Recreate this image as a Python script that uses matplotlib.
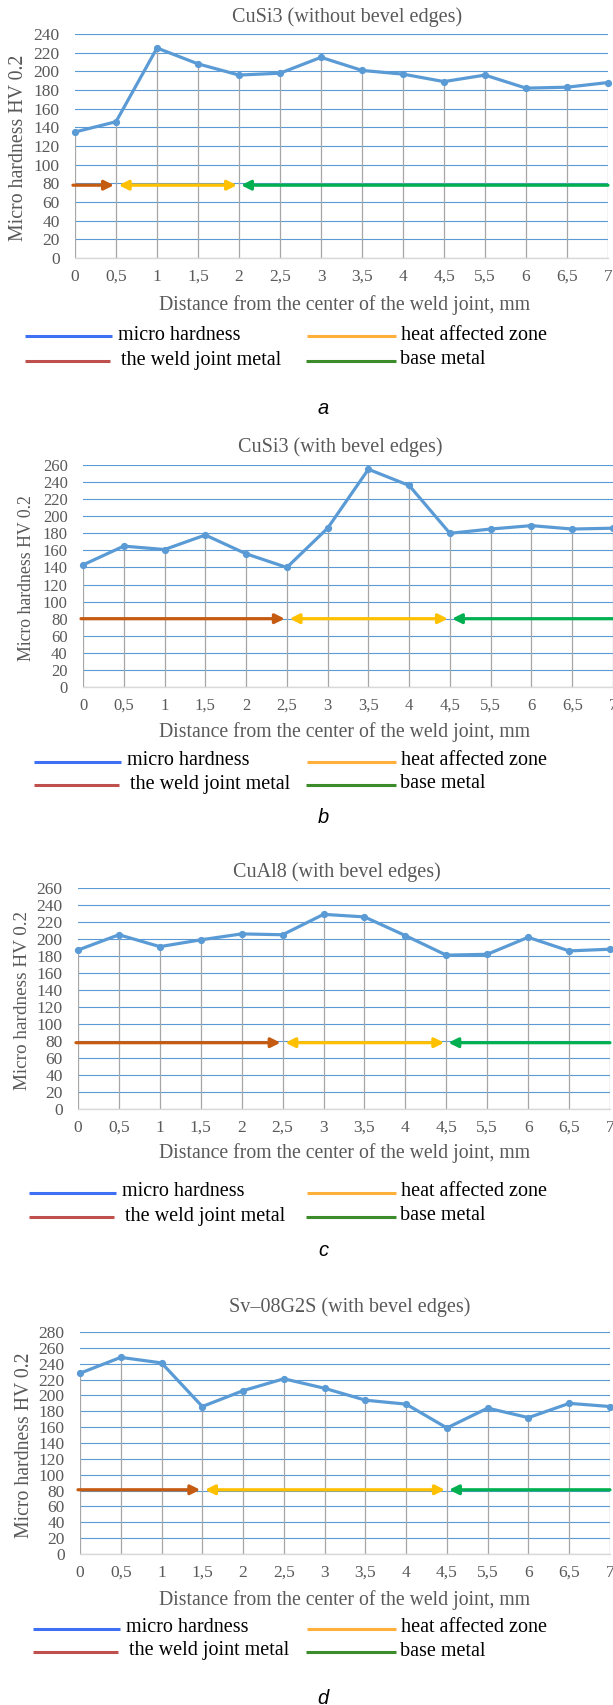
import matplotlib
matplotlib.use('Agg')
import matplotlib.pyplot as plt
from matplotlib.lines import Line2D

# micro hardness along the weld joint, four samples

dist_mm = [0, 0.5, 1, 1.5, 2, 2.5, 3, 3.5, 4, 4.5, 5.5, 6, 6.5, 7]
dist_labels = ['0', '0,5', '1', '1,5', '2', '2,5', '3', '3,5', '4', '4,5', '5,5', '6', '6,5', '7']

titles = ['CuSi3 (without bevel edges)', 'CuSi3 (with bevel edges)',
          'CuAl8 (with bevel edges)', 'Sv\u201308G2S (with bevel edges)']
letters = ['a', 'b', 'c', 'd']

hv_a = [135, 146, 225, 208, 196, 198, 215, 201, 197, 189, 196, 182, 183, 188]
hv_b = [143, 165, 161, 178, 156, 140, 186, 255, 236, 180, 185, 189, 185, 186]
hv_c = [187, 205, 191, 199, 206, 205, 229, 226, 204, 181, 182, 202, 186, 188]
hv_d = [228, 248, 241, 186, 206, 221, 209, 194, 189, 159, 184, 172, 190, 186]

# zone boundaries, mm: weld metal | HAZ | base metal
zones_a = [0, 0.5, 2, 7]
zones_b = [0, 2.5, 4.5, 7]
zones_c = [0, 2.5, 4.5, 7]
zones_d = [0, 1.5, 4.5, 7]
zone_level = [78, 80, 78, 81]

y_max = [240, 260, 260, 280]

legend_labels = ['micro hardness', 'heat affected zone', 'the weld joint metal', 'base metal']

W, H = 613, 1705
fig = plt.figure(figsize=(W / 100, H / 100), dpi=100)

GRAY = '#595959'
SERIF = 'Liberation Serif'

# panel geometry in pixels: left, right, top(ymax), bottom(0)
boxes = [(75, 608, 34, 258), (83, 613, 465, 687), (78, 610, 888, 1109), (80, 610, 1332, 1554)]
title_pos = [(347, 17), (340, 447), (337, 872), (350, 1307)]
xlab_y = [305, 732, 1153, 1600]
ylab_x = [19, 27, 23, 25]
leg_rows = [(335, 360), (761, 784), (1192, 1216), (1628, 1651)]
leg_x0 = [25, 34, 29, 33]
letter_y = [408, 817, 1250, 1698]
tick_fs = [12.5, 12, 12.5, 12.5]
ylab_fs = [14.3, 12.8, 13.8, 14.2]


def ft(x, y, s, **kw):
    return fig.text(x / W, 1 - y / H, s, **kw)


def hline(x0, x1, y, color, lw):
    fig.add_artist(Line2D([x0 / W, x1 / W], [1 - y / H, 1 - y / H], color=color, lw=lw,
                          solid_capstyle='butt'))


all_hv = [hv_a, hv_b, hv_c, hv_d]
all_zones = [zones_a, zones_b, zones_c, zones_d]

for i in range(4):
    l, r, t, b = boxes[i]
    ax = fig.add_axes([l / W, 1 - b / H, (r - l) / W, (b - t) / H])
    idx = list(range(len(dist_mm)))
    hv = all_hv[i]
    ax.set_xlim(0, len(idx) - 1)
    ax.set_ylim(0, y_max[i])
    ax.set_yticks(range(0, y_max[i] + 1, 20))
    ax.set_xticks(idx)
    ax.set_xticklabels(dist_labels)
    for s in ['top', 'left', 'right']:
        ax.spines[s].set_visible(False)
    ax.spines['bottom'].set_color('#D9D9D9')
    ax.spines['bottom'].set_linewidth(1.0)
    ax.tick_params(length=0, labelsize=tick_fs[i], labelcolor=GRAY)
    ax.tick_params(axis='y', pad=11)
    ax.tick_params(axis='x', pad=8)
    for lab in ax.get_xticklabels() + ax.get_yticklabels():
        lab.set_fontfamily(SERIF)
    ax.yaxis.grid(True, color='#5B9BD5', lw=0.8)
    ax.set_axisbelow(True)
    ax.vlines(idx, 0, hv, color='#A6A6A6', lw=0.9, zorder=2)
    ax.plot(idx, hv, color='#5B9BD5', lw=2.3, marker='o', ms=4.2, zorder=4, clip_on=False)

    # zone arrows
    z = [dist_mm.index(v) for v in all_zones[i]]
    yl = zone_level[i]
    ax.annotate('', xy=(z[1], yl), xytext=(z[0] - 0.05, yl),
                arrowprops=dict(arrowstyle='-|>', color='#C55A11', lw=2.3, mutation_scale=14,
                                shrinkA=0, shrinkB=1.5), annotation_clip=False, zorder=5)
    ax.annotate('', xy=(z[2], yl), xytext=(z[1], yl),
                arrowprops=dict(arrowstyle='<|-|>', color='#FFC000', lw=2.3, mutation_scale=14,
                                shrinkA=2, shrinkB=1.5), annotation_clip=False, zorder=5)
    ax.annotate('', xy=(z[2], yl), xytext=(z[3], yl),
                arrowprops=dict(arrowstyle='-|>', color='#00B050', lw=2.3, mutation_scale=14,
                                shrinkA=0, shrinkB=1.5), annotation_clip=False, zorder=5)

    tx, ty = title_pos[i]
    ft(tx, ty, titles[i], ha='center', va='center', fontsize=14.5, color=GRAY, family=SERIF)
    ft(345, xlab_y[i], 'Distance from the center of the weld joint, mm', ha='center', va='center',
       fontsize=14.2, color=GRAY, family=SERIF)
    ft(ylab_x[i], (t + b) / 2 + 2, 'Micro hardness HV 0.2', ha='center', va='center', rotation=90,
       fontsize=ylab_fs[i], color=GRAY, family=SERIF)

    # legend
    r1, r2 = leg_rows[i]
    x0 = leg_x0[i]
    hline(x0, x0 + 87, r1 + 1, '#3F6FF5', 2.2)
    hline(x0, x0 + 85, r2 + 1, '#C0504D', 2.2)
    hline(307, 396, r1 + 1, '#FFB03B', 2.2)
    hline(306, 396, r2 + 1, '#3C8C2C', 2.2)
    ft(x0 + 93, r1, legend_labels[0], ha='left', va='center', fontsize=14.5, color='black', family=SERIF)
    ft(x0 + 96, r2, legend_labels[2], ha='left', va='center', fontsize=14.5, color='black', family=SERIF)
    ft(401, r1, legend_labels[1], ha='left', va='center', fontsize=14.5, color='black', family=SERIF)
    ft(400, r2, legend_labels[3], ha='left', va='center', fontsize=14.5, color='black', family=SERIF)

    ft(323, letter_y[i], letters[i], ha='center', va='center', fontsize=14.5, style='italic',
       color='black', family='Liberation Sans')

fig.savefig('out.png', dpi=100)
